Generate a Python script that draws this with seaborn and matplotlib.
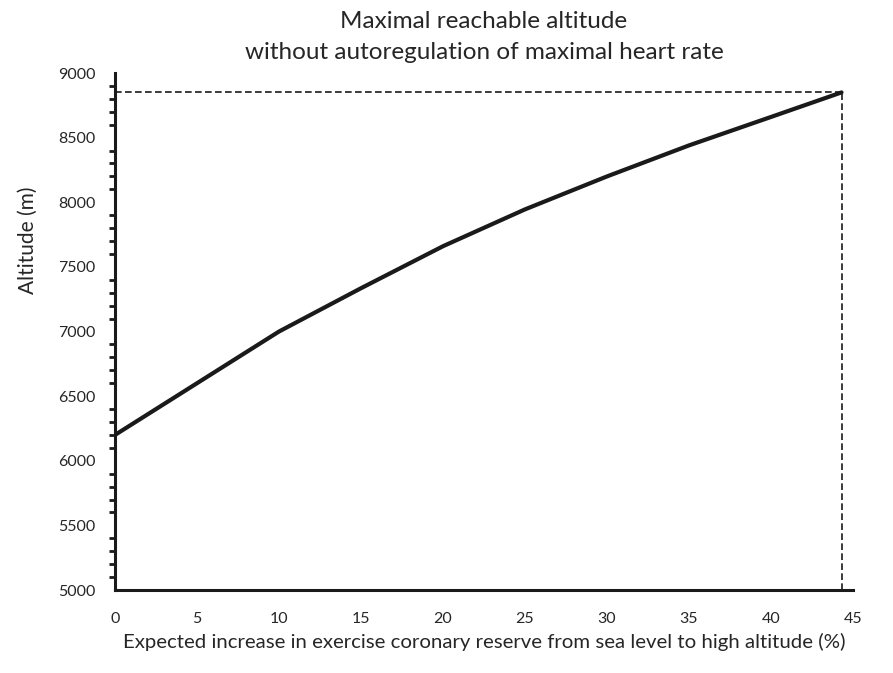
import numpy as np
import pandas as pd
import seaborn as sns
import matplotlib.pyplot as plt
from matplotlib.ticker import MultipleLocator

increase = [0, 5, 10, 15, 20, 25, 30, 35, 40, 44.3]
altitude = [6200, 6600, 7000, 7335, 7660, 7945, 8200, 8440, 8660, 8850]
df = pd.DataFrame({'increase': increase, 'altitude': altitude})

sns.set_style('white')
plt.rcParams['font.family'] = ['Lato', 'DejaVu Sans']

fig = plt.figure(figsize=(8.93, 6.73), dpi=100)
ax = fig.add_axes([0.1288, 0.1233, 0.8264, 0.7682])

sns.lineplot(data=df, x='increase', y='altitude', color='#1a1a1a', linewidth=3, ax=ax)

# reference lines at the end point
ax.plot([0, increase[-1]], [altitude[-1], altitude[-1]], ls=(0, (4, 2)), color='#1a1a1a', lw=1.2)
ax.plot([increase[-1], increase[-1]], [5000, altitude[-1]], ls=(0, (4, 2)), color='#1a1a1a', lw=1.2)

ax.set_xlim(0, 45)
ax.set_ylim(5000, 9000)
ax.xaxis.set_major_locator(MultipleLocator(5))
ax.yaxis.set_major_locator(MultipleLocator(500))
ax.yaxis.set_minor_locator(MultipleLocator(100))

for s in ['top', 'right']:
    ax.spines[s].set_visible(False)
for s in ['left', 'bottom']:
    ax.spines[s].set_linewidth(2.2)
    ax.spines[s].set_color('#1a1a1a')

ax.tick_params(axis='both', which='major', direction='out', length=6, width=2, color='#1a1a1a',
               labelsize=11.5, pad=8)
ax.tick_params(axis='y', which='minor', direction='out', length=4, width=2, color='#1a1a1a', left=True)
ax.tick_params(axis='x', which='major', pad=10)

ax.set_xlabel('Expected increase in exercise coronary reserve from sea level to high altitude (%)',
              fontsize=14.7, labelpad=5)
ax.set_ylabel('Altitude (m)', fontsize=15)
ax.yaxis.set_label_coords(-0.105, 0.677)
ax.set_title('Maximal reachable altitude\nwithout autoregulation of maximal heart rate',
             fontsize=17.5, pad=10, linespacing=1.6)

plt.savefig('out.png', dpi=100)
